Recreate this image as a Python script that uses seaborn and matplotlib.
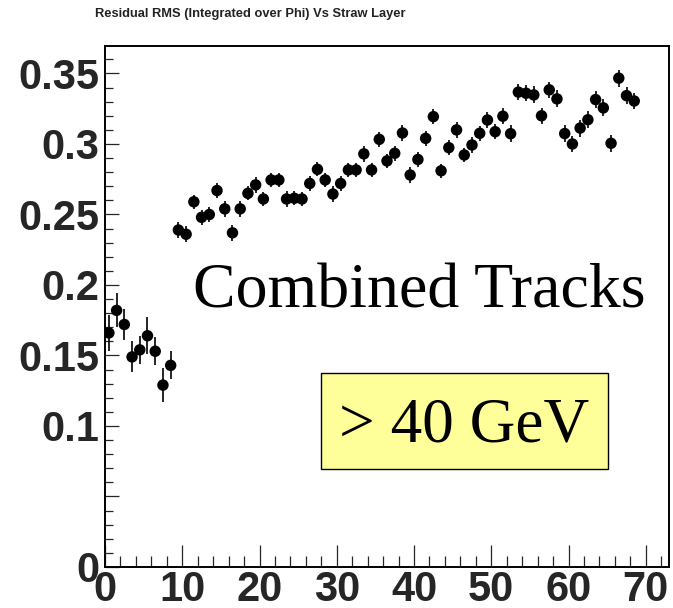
import matplotlib
matplotlib.use("Agg")
import matplotlib.pyplot as plt
from matplotlib.patches import Rectangle
import numpy as np
import pandas as pd
import seaborn as sns

# Straw layer index (bins of width 1, starting at 0)
straw_layer = list(range(69))

# Residual RMS per straw layer
residual_rms = [
    0.166, 0.182, 0.172, 0.149, 0.154, 0.164, 0.153, 0.129, 0.143,
    0.239, 0.236, 0.259, 0.248, 0.250, 0.267, 0.254, 0.237, 0.254, 0.265,
    0.271, 0.261, 0.2745, 0.2745, 0.261, 0.2615, 0.261, 0.272, 0.282, 0.2745,
    0.2645, 0.272, 0.2816, 0.2816, 0.293, 0.2816, 0.3033, 0.288, 0.2934, 0.3078,
    0.278, 0.289, 0.304, 0.3194, 0.281, 0.2974, 0.310, 0.2922, 0.2993, 0.3076,
    0.317, 0.3087, 0.3197, 0.3073, 0.3368, 0.336, 0.3348, 0.320, 0.3384, 0.332,
    0.3074, 0.300, 0.3113, 0.3172, 0.3315, 0.3256, 0.3005, 0.3467, 0.3343, 0.3305,
]

# Statistical uncertainty on each RMS value
rms_error = [
    0.013, 0.012, 0.011, 0.011, 0.010, 0.013, 0.010, 0.012, 0.010,
    0.0055, 0.0055, 0.005, 0.0055, 0.0055, 0.005, 0.0055, 0.0055, 0.0055, 0.005,
    0.0055, 0.005, 0.005, 0.005, 0.0055, 0.005, 0.005, 0.0055, 0.005, 0.005,
    0.0055, 0.0055, 0.005, 0.005, 0.0055, 0.005, 0.0055, 0.005, 0.0055, 0.0055,
    0.0055, 0.0055, 0.0055, 0.0055, 0.005, 0.0055, 0.0055, 0.005, 0.0055, 0.0055,
    0.0055, 0.0055, 0.0055, 0.006, 0.0055, 0.0055, 0.006, 0.0055, 0.0055, 0.006,
    0.006, 0.006, 0.006, 0.006, 0.006, 0.006, 0.006, 0.006, 0.006, 0.006,
]

x_ticks = [0, 10, 20, 30, 40, 50, 60, 70]
x_tick_labels = ["0", "10", "20", "30", "40", "50", "60", "70"]
y_ticks = [0.0, 0.05, 0.10, 0.15, 0.20, 0.25, 0.30, 0.35]
y_tick_labels = ["0", "", "0.1", "0.15", "0.2", "0.25", "0.3", "0.35"]

title_text = "Residual RMS (Integrated over Phi) Vs Straw Layer"
label_text = "Combined Tracks"
box_text = "> 40 GeV"

df = pd.DataFrame({
    "layer": np.array(straw_layer) + 0.5,
    "rms": residual_rms,
    "err": rms_error,
})

sns.set_style("white")
plt.rcParams["font.family"] = ["Liberation Sans", "DejaVu Sans"]

fig = plt.figure(figsize=(6.73, 6.08), dpi=100)
ax = fig.add_axes([105 / 673, 41 / 608, 564 / 673, 521 / 608])

ax.errorbar(df["layer"], df["rms"], yerr=df["err"], fmt="none",
            ecolor="black", elinewidth=1.2, capsize=0, zorder=2)
sns.scatterplot(data=df, x="layer", y="rms", ax=ax, color="black",
                s=68, edgecolor="none", linewidth=0, zorder=3, legend=False)

ax.set_xlim(0, 73)
ax.set_ylim(0, 0.3695)
ax.set_xlabel("")
ax.set_ylabel("")

ax.set_xticks(x_ticks)
ax.set_xticklabels(x_tick_labels)
ax.set_yticks(y_ticks)
ax.set_yticklabels(y_tick_labels)
ax.set_xticks(np.arange(0, 73, 2), minor=True)
ax.set_yticks(np.arange(0, 0.37, 0.01), minor=True)

for lab in ax.get_xticklabels() + ax.get_yticklabels():
    lab.set_fontsize(30)
    lab.set_fontweight("bold")

ax.tick_params(axis="x", which="major", direction="in", length=16, width=0.9,
               pad=2, bottom=True, top=False)
ax.tick_params(axis="x", which="minor", direction="in", length=8, width=0.9,
               bottom=True, top=False)
ax.tick_params(axis="y", which="major", direction="in", length=10, width=0.9,
               pad=4, left=True, right=False)
ax.tick_params(axis="y", which="minor", direction="in", length=5.5, width=0.9,
               left=True, right=False)

for side in ["left", "right", "top", "bottom"]:
    ax.spines[side].set_visible(True)
    ax.spines[side].set_color("black")
    ax.spines[side].set_linewidth(1.4)

fig.text(250 / 673, 1 - 14 / 608, title_text, ha="center", va="center",
         fontsize=9.3, fontweight="bold", color="#222222")

fig.text(193 / 673, 1 - 307 / 608, label_text, ha="left", va="baseline",
         fontsize=46, family=["Liberation Serif", "DejaVu Serif"], color="black")

fig.patches.append(Rectangle((320.7 / 673, 1 - 469.3 / 608), 287.6 / 673, 96 / 608,
                             transform=fig.transFigure, facecolor="#ffff99",
                             edgecolor="black", linewidth=1.0, zorder=5))
fig.text(464 / 673, 1 - 442 / 608, box_text, ha="center", va="baseline",
         fontsize=45.5, family=["Liberation Serif", "DejaVu Serif"], color="black",
         zorder=6)

fig.savefig("out.png", dpi=100, facecolor="white")
